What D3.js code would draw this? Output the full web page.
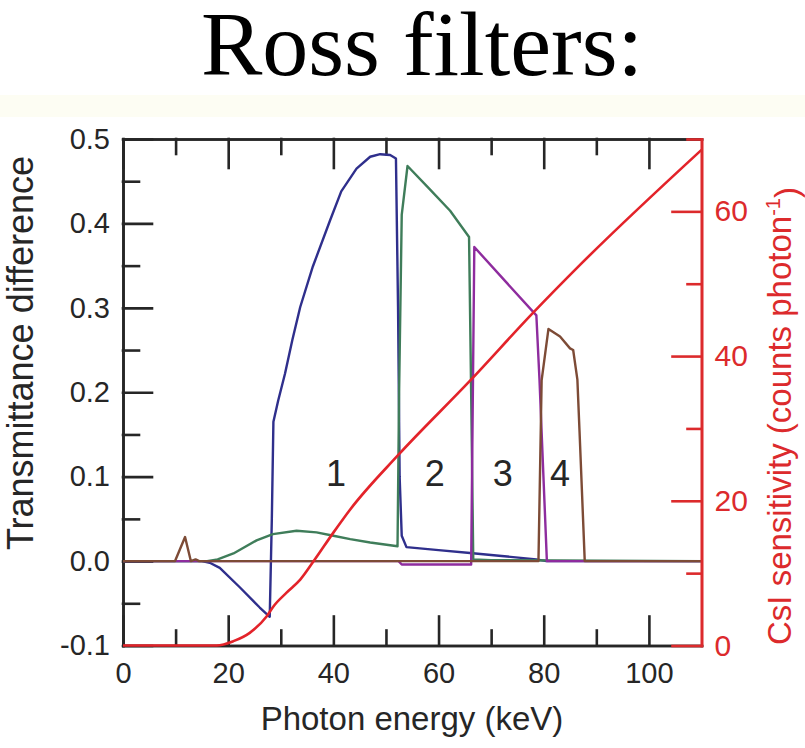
<!DOCTYPE html>
<html>
<head>
<meta charset="utf-8">
<script src="https://cdn.jsdelivr.net/npm/d3@7"></script>
<style>
  body { margin: 0; background: #fff; }
  svg { display: block; }
  .axis text { font-family: "Liberation Sans", Arial, sans-serif; }
</style>
</head>
<body>
<div id="app"></div>
<script>
// Transmittance difference of the four Ross filter pairs
const filter1Energy = [0, 15, 16.5, 18.4, 22.2, 26, 27.9, 28.3, 28.6, 29.5, 30.8, 32.2, 33.7, 36.1, 39.4, 41.5, 44.4, 47, 48.9, 50.8, 51.9, 52.3, 52.6, 53.0, 53.9, 60, 66, 72, 78.6, 80.5, 110];
const filter1Value  = [0, 0, -0.002, -0.008, -0.031, -0.055, -0.066, 0.05, 0.165, 0.19, 0.222, 0.262, 0.301, 0.349, 0.404, 0.438, 0.465, 0.479, 0.482, 0.481, 0.477, 0.3, 0.1, 0.03, 0.0165, 0.013, 0.0095, 0.006, 0.002, 0, 0];

const filter2Energy = [0, 16, 18, 21, 25.4, 28.5, 33, 36.8, 40, 43.2, 47, 52.2, 52.5, 53.0, 54.1, 58.4, 62.2, 65.8, 66.2, 66.6, 70, 110];
const filter2Value  = [0, 0, 0.002, 0.009, 0.0245, 0.032, 0.036, 0.034, 0.030, 0.026, 0.022, 0.0175, 0.2, 0.41, 0.468, 0.44, 0.415, 0.384, 0.2, 0.002, 0.001, 0];

const filter3Energy = [0, 52.4, 53, 66.2, 66.8, 78.6, 79.2, 80.6, 110];
const filter3Value  = [0, 0, -0.004, -0.004, 0.372, 0.291, 0.214, 0, 0];

const filter4Energy = [0, 9.9, 11.8, 12.9, 13.8, 14.5, 79.0, 79.6, 80.9, 83.1, 85.0, 85.6, 86.4, 86.8, 87.8, 110];
const filter4Value  = [0, 0, 0.0285, 0, 0.002, 0, 0, 0.214, 0.275, 0.266, 0.252, 0.25, 0.215, 0.155, 0, 0];

// CsI sensitivity (right axis)
const csiEnergy = [0, 17.8, 21, 24.1, 27.3, 28.6, 31.1, 33.7, 36.2, 40, 43.2, 52.3, 66, 78, 86.9, 110];
const csiValue  = [0, 0, 0.6, 1.75, 4.0, 5.4, 7.3, 9.1, 11.6, 15.6, 18.8, 26.3, 36.6, 46.0, 52.6, 68.5];

const filterNames = ["1", "2", "3", "4"];
const filterLabelEnergy = [40.5, 59.3, 72.2, 83.1];
const filterLabelValue = [0.104, 0.104, 0.104, 0.104];
const filterColors = ["#2f2f8c", "#3f7d5a", "#8e2c9e", "#7d4b36"];

const xMajor = [0, 20, 40, 60, 80, 100];
const xMinor = [10, 30, 50, 70, 90];
const yMajor = [-0.1, 0, 0.1, 0.2, 0.3, 0.4, 0.5];
const yMinor = [-0.05, 0.05, 0.15, 0.25, 0.35, 0.45];
const y2Major = [0, 20, 40, 60];
const y2Minor = [10, 30, 50, 70];

const width = 805, height = 748;
const ink = "#262626", red = "#dc2a2c";

const svg = d3.select('#app').append('svg')
    .attr('width', width)
    .attr('height', height);

// faint cream band under the title
svg.append('rect')
    .attr('x', 0).attr('y', 95)
    .attr('width', width).attr('height', 22)
    .attr('fill', '#fdfdf3');

svg.append('text')
    .attr('x', 422).attr('y', 75)
    .attr('text-anchor', 'middle')
    .style('font-family', '"Liberation Serif", "Times New Roman", serif')
    .style('font-size', '92px')
    .attr('fill', '#000')
    .text('Ross filters:');

const x = d3.scaleLinear().domain([0, 110]).range([123, 701.5]);
const y = d3.scaleLinear().domain([-0.1, 0.5]).range([645.5, 139]);
const y2 = d3.scaleLinear().domain([0, 70]).range([645.5, 139]);

function styleAxis(g, color, fontSize) {
    g.attr('class', 'axis');
    g.selectAll('path, line')
        .attr('stroke', color)
        .attr('stroke-width', 2.6)
        .attr('stroke-linecap', 'square');
    g.selectAll('text')
        .attr('fill', color)
        .style('font-size', fontSize);
}

// bottom
svg.append('g').attr('transform', `translate(0,${y(-0.1)})`)
    .call(d3.axisBottom(x).tickValues(xMinor).tickSize(-15).tickSizeOuter(0).tickFormat(''))
    .call(g => styleAxis(g, ink, '29px'));
svg.append('g').attr('transform', `translate(0,${y(-0.1)})`)
    .call(d3.axisBottom(x).tickValues(xMajor).tickSize(-29).tickSizeOuter(0).tickPadding(17).tickFormat(d => d))
    .call(g => styleAxis(g, ink, '29px'));

// top
svg.append('g').attr('transform', `translate(0,${y(0.5)})`)
    .call(d3.axisTop(x).tickValues(xMinor).tickSize(-15).tickSizeOuter(0).tickFormat(''))
    .call(g => styleAxis(g, ink, '29px'));
svg.append('g').attr('transform', `translate(0,${y(0.5)})`)
    .call(d3.axisTop(x).tickValues(xMajor).tickSize(-29).tickSizeOuter(0).tickFormat(''))
    .call(g => styleAxis(g, ink, '29px'));

// left
svg.append('g').attr('transform', `translate(${x(0)},0)`)
    .call(d3.axisLeft(y).tickValues(yMinor).tickSize(-16).tickSizeOuter(0).tickFormat(''))
    .call(g => styleAxis(g, ink, '29px'));
svg.append('g').attr('transform', `translate(${x(0)},0)`)
    .call(d3.axisLeft(y).tickValues(yMajor).tickSize(-29).tickSizeOuter(0).tickPadding(13).tickFormat(d => d.toFixed(1)))
    .call(g => styleAxis(g, ink, '29px'));

// curves
const line = d3.line().x(d => x(d[0])).y(d => y(d[1]));
const filterEnergies = [filter1Energy, filter2Energy, filter3Energy, filter4Energy];
const filterValues = [filter1Value, filter2Value, filter3Value, filter4Value];

filterEnergies.forEach((energies, i) => {
    svg.append('path')
        .datum(d3.zip(energies, filterValues[i]))
        .attr('d', line)
        .attr('fill', 'none')
        .attr('stroke', filterColors[i])
        .attr('stroke-width', 2.4)
        .attr('stroke-linejoin', 'round');
});

const csiLine = d3.line().x(d => x(d[0])).y(d => y2(d[1])).curve(d3.curveMonotoneX);
svg.append('path')
    .datum(d3.zip(csiEnergy, csiValue))
    .attr('d', csiLine)
    .attr('fill', 'none')
    .attr('stroke', '#e3232a')
    .attr('stroke-width', 2.6)
    .attr('stroke-linejoin', 'round');

// right (red) axis
svg.append('g').attr('transform', `translate(${x(110)},0)`)
    .call(d3.axisRight(y2).tickValues(y2Minor).tickSize(-14).tickSizeOuter(0).tickFormat(''))
    .call(g => styleAxis(g, red, '30px'));
svg.append('g').attr('transform', `translate(${x(110)},0)`)
    .call(d3.axisRight(y2).tickValues(y2Major).tickSize(-29).tickSizeOuter(0).tickPadding(13).tickFormat(d => d))
    .call(g => styleAxis(g, red, '30px'));

// filter numbers
svg.append('g').selectAll('text')
    .data(filterNames)
    .enter().append('text')
    .attr('x', (d, i) => x(filterLabelEnergy[i]))
    .attr('y', (d, i) => y(filterLabelValue[i]))
    .attr('dy', '0.36em')
    .attr('text-anchor', 'middle')
    .attr('fill', ink)
    .style('font-family', '"Liberation Sans", Arial, sans-serif')
    .style('font-size', '36px')
    .text(d => d);

// axis titles
svg.append('text')
    .attr('x', 412).attr('y', 730)
    .attr('text-anchor', 'middle')
    .attr('fill', ink)
    .style('font-family', '"Liberation Sans", Arial, sans-serif')
    .style('font-size', '33px')
    .text('Photon energy (keV)');

svg.append('text')
    .attr('transform', 'translate(33,353) rotate(-90)')
    .attr('text-anchor', 'middle')
    .attr('fill', ink)
    .style('font-family', '"Liberation Sans", Arial, sans-serif')
    .style('font-size', '36px')
    .text('Transmittance difference');

const rightTitle = svg.append('text')
    .attr('transform', 'translate(791,416) rotate(-90)')
    .attr('text-anchor', 'middle')
    .attr('fill', red)
    .style('font-family', '"Liberation Sans", Arial, sans-serif')
    .style('font-size', '33px');
rightTitle.append('tspan').text('CsI sensitivity (counts photon');
rightTitle.append('tspan').attr('dy', '-0.55em').style('font-size', '20px').text('-1');
rightTitle.append('tspan').attr('dy', '0.55em').text(')');
</script>
</body>
</html>
